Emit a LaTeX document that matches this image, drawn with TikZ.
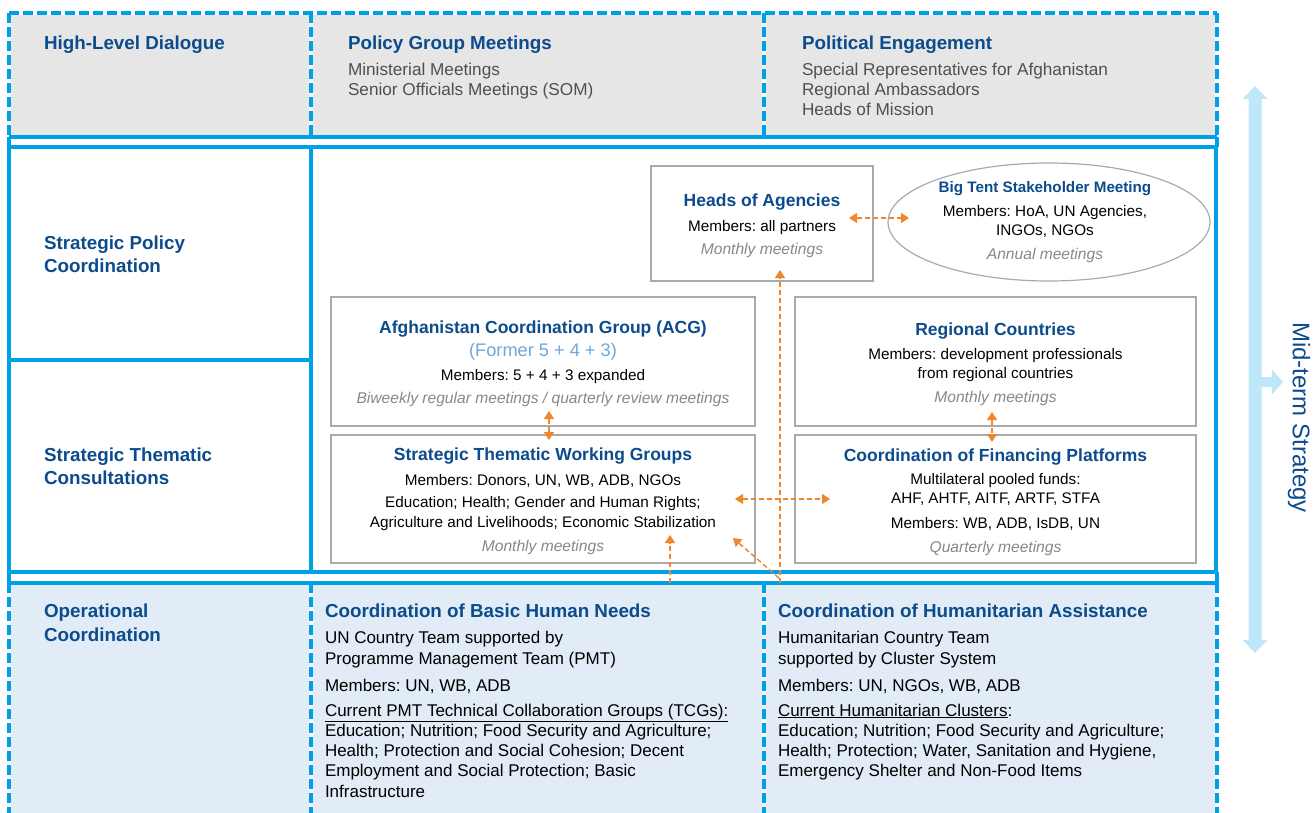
\documentclass[tikz,border=0pt]{standalone}
\usepackage{fontspec}
\setmainfont{Liberation Sans}
\usetikzlibrary{arrows.meta,calc,shapes.geometric}
\frenchspacing
\definecolor{bblue}{RGB}{0,160,233}
\definecolor{hblue}{RGB}{12,75,140}
\definecolor{lblue}{RGB}{111,168,220}
\definecolor{gfill}{RGB}{230,230,230}
\definecolor{bfill}{RGB}{225,236,246}
\definecolor{gtext}{RGB}{80,80,80}
\definecolor{itext}{RGB}{136,136,136}
\definecolor{boxgray}{RGB}{170,170,170}
\definecolor{oarr}{RGB}{240,135,45}
\definecolor{midb}{RGB}{190,232,250}
\newcommand{\fSec}{\fontsize{18.8}{23}\selectfont\bfseries\color{hblue}}
\newcommand{\fHead}{\fontsize{17.5}{22}\selectfont\bfseries\color{hblue}}
\newcommand{\fSmallHead}{\fontsize{15.2}{19}\selectfont\bfseries\color{hblue}}
\newcommand{\fBody}{\fontsize{15.3}{19}\selectfont\color{black}}
\newcommand{\fIt}{\fontsize{15.6}{19}\selectfont\itshape\color{itext}}
\newcommand{\fGray}{\fontsize{17.2}{20.3}\selectfont\color{gtext}}
\newcommand{\fLight}{\fontsize{18.2}{21}\selectfont\color{lblue}}
\begin{document}
\begin{tikzpicture}[x=1pt,y=-1pt,
  solidline/.style={draw=bblue,line width=3.5pt},
  dashline/.style={draw=bblue,line width=3.5pt,dash pattern=on 10pt off 4pt},
  cellbox/.style={draw=boxgray,line width=1.2pt,fill=white,rectangle,inner sep=0pt},
  txt/.style={inner sep=0pt,outer sep=0pt},
  ctext/.style={txt,align=center,anchor=north,font=\fontsize{15}{20}\selectfont},
  ltext/.style={txt,align=left,anchor=north west,font=\fontsize{17}{20.3}\selectfont},
  oarrow/.style={draw=oarr,line width=1.5pt,dash pattern=on 5pt off 3pt,
     {Triangle[width=10pt,length=8pt]}-{Triangle[width=10pt,length=8pt]}},
  oarrowone/.style={draw=oarr,line width=1.5pt,dash pattern=on 5pt off 3pt,
     -{Triangle[width=10pt,length=8pt]}}
]
\useasboundingbox (0,0) rectangle (1316,813);
% ---------- fills
\fill[gfill] (11,15) rectangle (309,135);
\fill[gfill] (313,15) rectangle (762,135);
\fill[gfill] (766,15) rectangle (1215,135);
\fill[bfill] (11,585) rectangle (309,813);
\fill[bfill] (313,585) rectangle (762,813);
\fill[bfill] (766,585) rectangle (1215,813);
% ---------- row 1 lines
\draw[dashline] (9,13) -- (1217,13);
\draw[dashline] (9,13) -- (9,137);
\draw[dashline] (311,13) -- (311,137);
\draw[dashline] (764,13) -- (764,137);
\draw[dashline] (1217,13) -- (1217,137);
\draw[solidline] (9,137) -- (1217,137);
\draw[solidline] (9,137) -- (9,147);
\draw[solidline] (1217,137) -- (1217,147);
% ---------- middle section
\draw[solidline] (9,147) rectangle (1216,572);
\draw[solidline] (311,147) -- (311,572);
\draw[solidline] (9,360) -- (311,360);
\draw[solidline] (9,572) -- (9,583);
\draw[solidline] (1217,572) -- (1217,583);
% ---------- row 3 lines
\draw[solidline] (9,583) -- (1217,583);
\draw[dashline] (9,583) -- (9,815);
\draw[dashline] (311,583) -- (311,815);
\draw[dashline] (764,583) -- (764,815);
\draw[dashline] (1217,583) -- (1217,815);

% ---------- row 1 texts
\node[ltext] (hld) at (44,36.2) {{\fSec High-Level Dialogue}};
\node[ltext,font=\fontsize{17.2}{20.3}\selectfont] (pgm) at (348,36.2)
  {{\fSec Policy Group Meetings}\\[5.2pt]
   {\fGray Ministerial Meetings}\\
   {\fGray Senior Officials Meetings (SOM)}};
\node[ltext,font=\fontsize{17.2}{20.3}\selectfont] (pe) at (802,36.2)
  {{\fSec Political Engagement}\\[5.2pt]
   {\fGray Special Representatives for Afghanistan}\\
   {\fGray Regional Ambassadors}\\
   {\fGray Heads of Mission}};

% ---------- left labels
\node[ltext,font=\fontsize{18.8}{23}\selectfont] (spc) at (44,236.2)
  {{\fSec Strategic Policy}\\{\fSec Coordination}};
\node[ltext,font=\fontsize{18.8}{23}\selectfont] (stc) at (44,448.2)
  {{\fSec Strategic Thematic}\\{\fSec Consultations}};
\node[ltext,font=\fontsize{18.8}{23.5}\selectfont] (opc) at (44,604.2)
  {{\fSec Operational}\\{\fSec Coordination}};

% ---------- boxes
\node[cellbox,minimum width=222pt,minimum height=115pt] (hoa) at (762,223.5) {};
\node[cellbox,ellipse,minimum width=322pt,minimum height=118pt,fill=none] (bigtent) at (1049,222) {};
\node[cellbox,minimum width=424pt,minimum height=129pt] (acg) at (543,361.5) {};
\node[cellbox,minimum width=401pt,minimum height=129pt] (reg) at (995.5,361.5) {};
\node[cellbox,minimum width=424pt,minimum height=128pt] (stwg) at (543,499) {};
\node[cellbox,minimum width=401pt,minimum height=128pt] (cfp) at (995.5,499) {};

\node[ctext] (hoaT) at (762,193.7)
  {{\fHead Heads of Agencies}\\[5pt]
   {\fBody Members: all partners}\\[3pt]
   {\fIt Monthly meetings}};
\node[ctext,font=\fontsize{15}{19}\selectfont] (btT) at (1045,181.5)
  {{\fSmallHead Big Tent Stakeholder Meeting}\\[5pt]
   {\fBody Members: HoA, UN Agencies,}\\
   {\fBody INGOs, NGOs}\\[5pt]
   {\fIt Annual meetings}};
\node[ctext] (acgT) at (543,320.7)
  {{\fHead Afghanistan Coordination Group (ACG)}\\[2.8pt]
   {\fLight (Former 5 + 4 + 3)}\\[4.3pt]
   {\fBody Members: 5 + 4 + 3 expanded}\\[3pt]
   {\fIt Biweekly regular meetings / quarterly review meetings}};
\node[ctext,font=\fontsize{15}{19}\selectfont] (regT) at (995.5,322.7)
  {{\fHead Regional Countries}\\[5.2pt]
   {\fBody Members: development professionals}\\
   {\fBody from regional countries}\\[5pt]
   {\fIt Monthly meetings}};
\node[ctext] (stwgT) at (543,447.7)
  {{\fHead Strategic Thematic Working Groups}\\[5.2pt]
   {\fBody Members: Donors, UN, WB, ADB, NGOs}\\[2pt]
   {\fBody Education; Health; Gender and Human Rights;}\\
   {\fBody Agriculture and Livelihoods; Economic Stabilization}\\[4pt]
   {\fIt Monthly meetings}};
\node[ctext,font=\fontsize{15}{19}\selectfont] (cfpT) at (995.5,448.7)
  {{\fHead Coordination of Financing Platforms}\\[4.2pt]
   {\fBody Multilateral pooled funds:}\\
   {\fBody AHF, AHTF, AITF, ARTF, STFA}\\[6pt]
   {\fBody Members: WB, ADB, IsDB, UN}\\[5pt]
   {\fIt Quarterly meetings}};

% ---------- row 3 texts
\node[ltext] (bhn) at (325,604.2)
  {{\fSec Coordination of Basic Human Needs}\\[5.6pt]
   UN Country Team supported by\\
   Programme Management Team (PMT)\\[6.7pt]
   Members: UN, WB, ADB\\[4.7pt]
   \underline{Current PMT Technical Collaboration Groups (TCGs):}\\
   Education; Nutrition; Food Security and Agriculture;\\
   Health; Protection and Social Cohesion; Decent\\
   Employment and Social Protection; Basic\\
   Infrastructure};
\node[ltext] (cha) at (778,604.2)
  {{\fSec Coordination of Humanitarian Assistance}\\[5.6pt]
   Humanitarian Country Team\\
   supported by Cluster System\\[6.7pt]
   Members: UN, NGOs, WB, ADB\\[4.7pt]
   \underline{Current Humanitarian Clusters}:\\
   Education; Nutrition; Food Security and Agriculture;\\
   Health; Protection; Water, Sanitation and Hygiene,\\
   Emergency Shelter and Non-Food Items};

% ---------- orange connectors
\coordinate (hoaR) at (849,218);
\coordinate (btL) at (909,218);
\draw[oarrow] (hoaR) -- (btL);
\coordinate (acgB) at (549,411);
\coordinate (stwgTop) at (549,440);
\draw[oarrow] (acgB) -- (stwgTop);
\coordinate (regB) at (992,412);
\coordinate (cfpTop) at (992,442);
\draw[oarrow] (regB) -- (cfpTop);
\coordinate (stwgR) at (735,499);
\coordinate (cfpL) at (830,499);
\draw[oarrow] (stwgR) -- (cfpL);
\coordinate (opTop) at (780,583);
\coordinate (hoaIn) at (780,270);
\draw[oarrowone] (opTop) -- (hoaIn);
\coordinate (diagS) at (779,578);
\coordinate (stwgIn) at (733,538);
\draw[oarrowone] (diagS) -- (stwgIn);
\coordinate (bhnTop) at (670,583);
\coordinate (stwgIn2) at (670,535);
\draw[oarrowone] (bhnTop) -- (stwgIn2);

% ---------- mid-term strategy arrow
\fill[midb] (1255,86) -- (1267.5,99) -- (1261.5,99) -- (1261.5,640) -- (1267.5,640)
  -- (1255,653) -- (1242.5,640) -- (1248.5,640) -- (1248.5,99) -- (1242.5,99) -- cycle;
\fill[midb] (1261,377) -- (1272,377) -- (1272,369.5) -- (1283,382) -- (1272,394.5)
  -- (1272,387) -- (1261,387) -- cycle;
\node[txt,rotate=-90,font=\fontsize{24}{28}\selectfont,text=hblue] (mts) at (1299,417.5) {Mid-term Strategy};
\end{tikzpicture}
\end{document}
